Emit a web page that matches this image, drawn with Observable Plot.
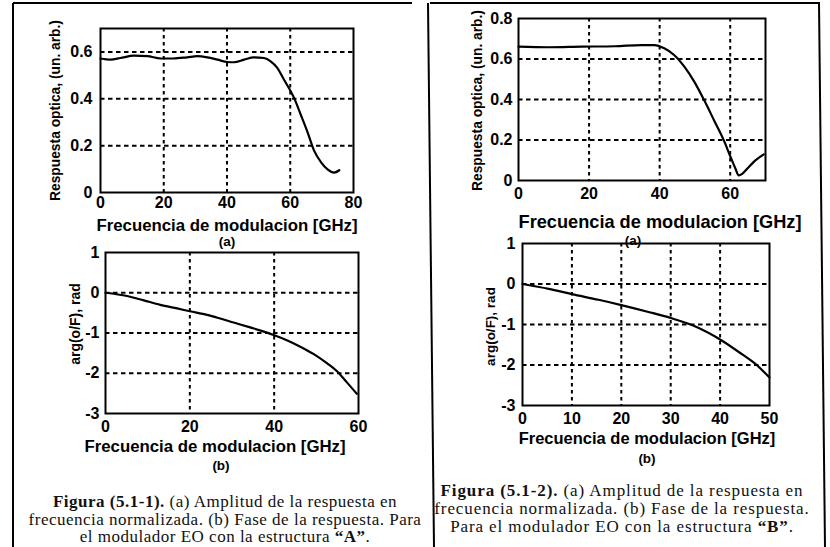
<!DOCTYPE html>
<html>
<head>
<meta charset="utf-8">
<script src="https://cdn.jsdelivr.net/npm/d3@7"></script>
<script src="https://cdn.jsdelivr.net/npm/@observablehq/plot@0.6"></script>
<style>
  body { margin: 0; background: #fff; }
  #page { position: relative; width: 830px; height: 547px; overflow: hidden; background: #fff; }
  .panel { position: absolute; }
  .cap { position: absolute; font-family: "Liberation Serif", "Times New Roman", serif; font-size: 17px;
         line-height: 17.5px; letter-spacing: 0.5px; text-align: center; color: #111; white-space: nowrap;
         transform: translateX(-50%); }
  #borders { position: absolute; left: 0; top: 0; }
</style>
</head>
<body>
<div id="page"></div>
<script>
// ---- Modulator EO, structure "A": normalized amplitude response ----
const freqAmpA = [0, 3.2, 6.3, 10.6, 14.8, 19, 23, 27.4, 30.6, 33.8, 37, 40.1, 42.2, 45.4, 48.5, 51.7, 53.8, 55.9, 58, 60.1, 61.2, 63.3, 65.4, 67.5, 69.7, 71.8, 73.9, 75.5];
const ampA = [0.572, 0.567, 0.574, 0.584, 0.582, 0.572, 0.572, 0.577, 0.582, 0.577, 0.567, 0.557, 0.556, 0.567, 0.577, 0.574, 0.56, 0.532, 0.482, 0.433, 0.404, 0.333, 0.26, 0.18, 0.13, 0.099, 0.085, 0.095];

// ---- Modulator EO, structure "B": normalized amplitude response ----
const freqAmpB = [0, 8.5, 17.9, 27.3, 34.8, 38.5, 41.3, 44.1, 47, 49.8, 52.6, 55.4, 58.2, 60.1, 61.5, 62.4, 63.4, 64.8, 66.6, 69.5];
const ampB = [0.661, 0.658, 0.661, 0.663, 0.669, 0.669, 0.653, 0.62, 0.562, 0.488, 0.397, 0.298, 0.198, 0.116, 0.058, 0.025, 0.033, 0.058, 0.091, 0.129];

// ---- Phase of the response, structure "A" (rad) ----
const freqPhA = [0, 5.1, 9.1, 13, 17, 20, 24.1, 27.2, 30.4, 34.3, 38.3, 39.9, 43, 46.2, 49.3, 52.5, 54.9, 57.2, 59.6];
const phaseA = [0, -0.08, -0.19, -0.30, -0.39, -0.46, -0.55, -0.64, -0.74, -0.86, -0.99, -1.05, -1.18, -1.34, -1.52, -1.75, -1.95, -2.22, -2.51];

// ---- Phase of the response, structure "B" (rad) ----
const freqPhB = [0, 5.3, 10, 15.4, 20, 25.5, 30, 35, 40.4, 44.5, 47.2, 50];
const phaseB = [0, -0.12, -0.25, -0.39, -0.52, -0.69, -0.84, -1.05, -1.40, -1.74, -1.98, -2.31];

// ---- Axis ticks ----
const ticksXAmpA = [0, 20, 40, 60, 80];
const ticksXAmpB = [0, 20, 40, 60];
const ticksYAmpA = [0, 0.2, 0.4, 0.6];
const ticksYAmpB = [0, 0.2, 0.4, 0.6, 0.8];
const ticksXPhA = [0, 20, 40, 60];
const ticksXPhB = [0, 10, 20, 30, 40, 50];
const ticksYPh = [-3, -2, -1, 0, 1];

// ---- Texts ----
const xTitle = "Frecuencia de modulacion [GHz]";
const yTitleAmp = "Respuesta optica, (un. arb.)";
const yTitlePh = "arg(o/F), rad";

const FONT = '"Liberation Sans", Arial, Helvetica, sans-serif';
const page = document.getElementById("page");

function fmt(d) { return String(d); }

function panel(cfg) {
  const data = cfg.xs.map((x, i) => ({x, y: cfg.ys[i]}));
  const inner = (arr) => arr.filter(t => t > cfg.xDomain[0] && t < cfg.xDomain[1]);
  const innerY = (arr) => arr.filter(t => t > cfg.yDomain[0] && t < cfg.yDomain[1]);
  const txt = {fontFamily: FONT, fontWeight: "bold", fill: "#000"};
  const plot = Plot.plot({
    width: cfg.width,
    height: cfg.height,
    marginLeft: cfg.m[0], marginRight: cfg.m[1], marginTop: cfg.m[2], marginBottom: cfg.m[3],
    style: {background: "transparent", overflow: "visible", fontFamily: FONT, fontWeight: "bold", fontSize: "16px", color: "#000"},
    x: {domain: cfg.xDomain},
    y: {domain: cfg.yDomain},
    marks: [
      Plot.gridX(inner(cfg.xTicks), {stroke: "#000", strokeOpacity: 1, strokeWidth: 2, strokeDasharray: "3.5,3.5"}),
      Plot.gridY(innerY(cfg.yTicks), {stroke: "#000", strokeOpacity: 1, strokeWidth: 2, strokeDasharray: "4.5,3.5"}),
      Plot.line(data, {x: "x", y: "y", stroke: "#000", strokeWidth: 2.2, curve: "monotone-x"}),
      Plot.frame({stroke: "#000", strokeWidth: 2}),
      Plot.axisX(cfg.xTicks, {tickSize: 0, tickPadding: cfg.xPad, tickFormat: fmt, label: null, fontSize: 16, ...txt}),
      Plot.axisY(cfg.yTicks, {tickSize: 0, tickPadding: cfg.yPad, tickFormat: fmt, label: null, fontSize: 16, ...txt}),
      Plot.text([cfg.xLabel], {text: d => d, frameAnchor: "bottom", lineAnchor: "middle", textAnchor: "middle",
        dx: cfg.xLabelDx, dy: cfg.xLabelDy, fontSize: cfg.xLabelSize, ...txt}),
      Plot.text([cfg.sub], {text: d => d, frameAnchor: "bottom", lineAnchor: "middle", textAnchor: "middle",
        dx: cfg.subDx, dy: cfg.subDy, fontSize: 13.5, ...txt}),
      Plot.text([cfg.yLabel], {text: d => d, frameAnchor: "left", lineAnchor: "middle", textAnchor: "middle", rotate: -90,
        dx: cfg.yLabelDx, dy: cfg.yLabelDy, fontSize: cfg.yLabelSize, ...txt})
    ]
  });
  const div = document.createElement("div");
  div.className = "panel";
  div.style.left = cfg.left + "px";
  div.style.top = cfg.top + "px";
  div.appendChild(plot);
  page.appendChild(div);
}

// (a) amplitude, structure A
panel({left: 0, top: 0, width: 415, height: 245, m: [100, 62, 28, 53],
  xs: freqAmpA, ys: ampA, xDomain: [0, 80], yDomain: [0, 0.7],
  xTicks: ticksXAmpA, yTicks: ticksYAmpA, xPad: 4, yPad: 8,
  xLabel: xTitle, xLabelSize: 16.8, xLabelDx: 0, xLabelDy: 33,
  sub: "(a)", subDx: 0, subDy: 49,
  yLabel: yTitleAmp, yLabelSize: 13.8, yLabelDx: -45, yLabelDy: 0});

// (a) amplitude, structure B
panel({left: 415, top: 0, width: 415, height: 235, m: [103, 65, 18, 55],
  xs: freqAmpB, ys: ampB, xDomain: [0, 70], yDomain: [0, 0.8],
  xTicks: ticksXAmpB, yTicks: ticksYAmpB, xPad: 7, yPad: 6,
  xLabel: xTitle, xLabelSize: 18.2, xLabelDx: 18, xLabelDy: 42,
  sub: "(a)", subDx: -9, subDy: 60,
  yLabel: yTitleAmp, yLabelSize: 13.8, yLabelDx: -41, yLabelDy: 1});

// (b) phase, structure A
panel({left: 0, top: 245, width: 415, height: 230, m: [105, 57, 7, 62],
  xs: freqPhA, ys: phaseA, xDomain: [0, 60], yDomain: [-3, 1],
  xTicks: ticksXPhA, yTicks: ticksYPh, xPad: 7, yPad: 6,
  xLabel: xTitle, xLabelSize: 16.8, xLabelDx: -17, xLabelDy: 33,
  sub: "(b)", subDx: -11, subDy: 52,
  yLabel: yTitlePh, yLabelSize: 14, yLabelDx: -30, yLabelDy: -9});

// (b) phase, structure B
panel({left: 415, top: 235, width: 415, height: 240, m: [107, 61, 8, 70],
  xs: freqPhB, ys: phaseB, xDomain: [0, 50], yDomain: [-3, 1],
  xTicks: ticksXPhB, yTicks: ticksYPh, xPad: 7, yPad: 7,
  xLabel: xTitle, xLabelSize: 16.5, xLabelDx: 1, xLabelDy: 33,
  sub: "(b)", subDx: 1, subDy: 53,
  yLabel: yTitlePh, yLabelSize: 13.5, yLabelDx: -32, yLabelDy: 2});

// Figure captions
const capA = document.createElement("div");
capA.className = "cap";
capA.style.left = "225px"; capA.style.top = "493px";
capA.innerHTML = "<b>Figura (5.1-1).</b> (a) Amplitud de la respuesta en<br>frecuencia normalizada. (b) Fase de la respuesta. Para<br>el modulador EO con la estructura <b>“A”</b>.";
page.appendChild(capA);

const capB = document.createElement("div");
capB.className = "cap";
capB.style.left = "622px"; capB.style.top = "482px";
capB.style.letterSpacing = "0.9px"; capB.style.lineHeight = "18px";
capB.innerHTML = "<b>Figura (5.1-2).</b> (a) Amplitud de la respuesta en<br>frecuencia normalizada. (b) Fase de la respuesta.<br>Para el modulador EO con la estructura <b>“B”</b>.";
page.appendChild(capB);

// Page frame lines around the two figure columns
const ns = "http://www.w3.org/2000/svg";
const frame = document.createElementNS(ns, "svg");
frame.setAttribute("id", "borders");
frame.setAttribute("width", 830);
frame.setAttribute("height", 547);
[[13, 3, 412, 3], [430, 3, 820, 3], [13, 3, 13, 547], [428, 3, 434, 547], [819, 3, 825, 547]].forEach(([x1, y1, x2, y2]) => {
  const l = document.createElementNS(ns, "line");
  l.setAttribute("x1", x1); l.setAttribute("y1", y1);
  l.setAttribute("x2", x2); l.setAttribute("y2", y2);
  l.setAttribute("stroke", "#000"); l.setAttribute("stroke-width", 2);
  frame.appendChild(l);
});
page.appendChild(frame);
</script>
</body>
</html>
